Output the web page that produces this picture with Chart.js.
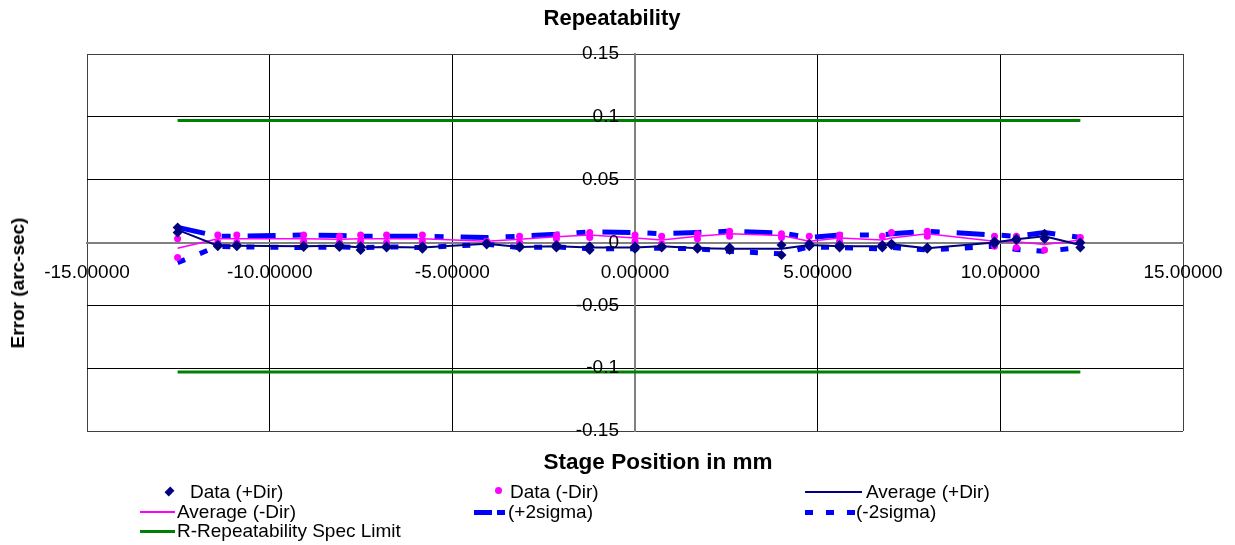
<!DOCTYPE html>
<html>
<head>
<meta charset="utf-8">
<script src="https://cdn.jsdelivr.net/npm/chart.js@4.4.0/dist/chart.umd.min.js"></script>
<style>
  body { margin: 0; background: #fff; font-family: "Liberation Sans", Arial, sans-serif; color: #000; }
  #wrap { position: relative; width: 1235px; height: 545px; overflow: hidden; }
  #chart { position: absolute; left: 0; top: 0; }
  .ttl { position: absolute; font-weight: bold; white-space: nowrap; }
  .lg { position: absolute; font-size: 19px; line-height: 20px; white-space: nowrap; }
  .sw { position: absolute; }
</style>
</head>
<body>
<div id="wrap">
  <canvas id="chart" width="1235" height="545"></canvas>
  <div class="ttl" style="left:0;width:1224px;top:5px;text-align:center;font-size:22px">Repeatability</div>
  <div class="ttl" style="left:0;width:1316px;top:449px;text-align:center;font-size:22.5px">Stage Position in mm</div>
  <div class="ttl" style="left:18px;top:283px;font-size:19px;transform:translate(-50%,-50%) rotate(-90deg)">Error (arc-sec)</div>
  <div id="legend"></div>
</div>
<script>
// stage positions (mm) where the error was measured
const positions = [-12.52, -11.42, -10.90, -9.07, -8.09, -7.51, -6.80, -5.82, -4.06, -3.16, -2.15, -1.24, 0.00,
                   0.73, 1.71, 2.59, 4.01, 4.77, 5.60, 6.77, 7.02, 8.00, 9.84, 10.44, 11.21, 12.19];

// measured error, arc-sec (two runs per direction)
const dataPlusA  = [0.012, -0.002, -0.002, -0.0025, -0.002, -0.003, -0.003, -0.003, -0.0005, -0.003, -0.002, -0.003, -0.003,
                    -0.003, -0.004, -0.004, -0.002, -0.001, -0.002, -0.002, -0.001, -0.004, 0.001, 0.003, 0.007, 0.000];
const dataPlusB  = [0.008, -0.003, -0.003, -0.0035, -0.0035, -0.006, -0.004, -0.005, -0.0015, -0.004, -0.004, -0.006, -0.005,
                    -0.004, -0.005, -0.006, -0.010, -0.003, -0.004, -0.004, -0.002, -0.005, -0.001, 0.002, 0.003, -0.004];
const dataMinusA = [0.003, 0.006, 0.006, 0.006, 0.005, 0.006, 0.006, 0.006, 0.001, 0.005, 0.006, 0.008, 0.006,
                    0.005, 0.007, 0.009, 0.007, 0.005, 0.006, 0.005, 0.008, 0.009, 0.005, 0.005, 0.003, 0.004];
const dataMinusB = [-0.012, 0.000, 0.000, 0.001, 0.000, 0.001, 0.000, 0.001, 0.0005, 0.000, 0.003, 0.004, 0.001,
                    -0.001, 0.003, 0.005, 0.004, -0.001, 0.001, -0.002, -0.001, 0.005, -0.003, -0.004, -0.006, 0.000];

// averages and 2-sigma band
const avgPlus    = [0.010, -0.0025, -0.0025, -0.003, -0.0025, -0.004, -0.0035, -0.004, -0.001, -0.0035, -0.003, -0.004, -0.004,
                    -0.003, -0.0045, -0.005, -0.005, -0.002, -0.003, -0.003, -0.0015, -0.0045, 0.000, 0.0025, 0.005, -0.002];
const avgMinus   = [-0.0045, 0.003, 0.003, 0.003, 0.0025, 0.003, 0.003, 0.003, 0.001, 0.0025, 0.0045, 0.006, 0.0035,
                    0.002, 0.005, 0.007, 0.0055, 0.001, 0.0035, 0.002, 0.0035, 0.007, 0.001, 0.0005, -0.0015, 0.002];
const sigmaPlus  = [0.012, 0.005, 0.005, 0.006, 0.0055, 0.005, 0.005, 0.005, 0.004, 0.005, 0.0065, 0.0085, 0.008,
                    0.007, 0.008, 0.009, 0.0075, 0.004, 0.006, 0.006, 0.007, 0.009, 0.006, 0.005, 0.008, 0.004];
const sigmaMinus = [-0.016, -0.003, -0.0035, -0.004, -0.0035, -0.004, -0.0035, -0.004, -0.0015, -0.004, -0.0035, -0.005, -0.005,
                    -0.0045, -0.005, -0.007, -0.009, -0.0035, -0.004, -0.005, -0.004, -0.006, -0.003, -0.0055, -0.007, -0.004];

// spec limit (arc-sec) and its x extent
const specUpper = 0.097;
const specLower = -0.103;
const specRange = [-12.52, 12.19];

const xTicks = [-15, -10, -5, 0, 5, 10, 15];
const yTicks = [-0.15, -0.1, -0.05, 0, 0.05, 0.1, 0.15];

const NAVY = '#000080', MAGENTA = '#FF00FF', BLUE = '#0000FF', GREEN = '#008000';

const pts = ys => positions.map((x, i) => ({ x: x, y: ys[i] }));
const specPts = v => specRange.map(x => ({ x: x, y: v }));

const datasets = [
    { label: 'Data (+Dir)', data: pts(dataPlusA).concat(pts(dataPlusB)), showLine: false,
      pointStyle: 'rectRot', pointRadius: 5, backgroundColor: NAVY, borderColor: NAVY, borderWidth: 0 },
    { label: 'Data (-Dir)', data: pts(dataMinusA).concat(pts(dataMinusB)), showLine: false,
      pointStyle: 'circle', pointRadius: 3.5, backgroundColor: MAGENTA, borderColor: MAGENTA, borderWidth: 0 },
    { label: 'Average (+Dir)', data: pts(avgPlus), showLine: true, borderColor: NAVY, borderWidth: 2, pointRadius: 0 },
    { label: 'Average (-Dir)', data: pts(avgMinus), showLine: true, borderColor: MAGENTA, borderWidth: 1.5, pointRadius: 0 },
    { label: '(+2sigma)', data: pts(sigmaPlus), showLine: true, borderColor: BLUE, borderWidth: 5,
      borderDash: [28, 17, 9, 17], borderCapStyle: 'butt', pointRadius: 0 },
    { label: '(-2sigma)', data: pts(sigmaMinus), showLine: true, borderColor: BLUE, borderWidth: 5,
      borderDash: [8, 16], borderCapStyle: 'butt', pointRadius: 0 },
    { label: 'R-Repeatability Spec Limit', data: specPts(specUpper), showLine: true, borderColor: GREEN, borderWidth: 3, pointRadius: 0 },
    { label: 'R-Repeatability Spec Limit', data: specPts(specLower), showLine: true, borderColor: GREEN, borderWidth: 3, pointRadius: 0 }
];

const gridColor = (edge) => (ctx) => {
    const v = ctx.tick.value;
    if (Math.abs(v) < 1e-9) return '#808080';
    if (Math.abs(Math.abs(v) - edge) < 1e-9) return '#404040';
    return '#000000';
};

const fmtY = v => String(Number(v.toFixed(2)));
const fmtX = v => v.toFixed(5);

// tick labels sit next to the axes that cross at zero, like Excel draws them
const axisLabels = {
    id: 'axisLabels',
    afterDraw(chart) {
        const { ctx, scales: { x, y } } = chart;
        const x0 = x.getPixelForValue(0);
        const y0 = y.getPixelForValue(0);
        ctx.save();
        ctx.font = '19px "Liberation Sans", Arial, sans-serif';
        ctx.fillStyle = '#000';
        ctx.textBaseline = 'middle';
        ctx.textAlign = 'right';
        y.ticks.forEach(t => ctx.fillText(fmtY(t.value), x0 - 16, y.getPixelForValue(t.value)));
        ctx.textAlign = 'center';
        x.ticks.forEach(t => ctx.fillText(fmtX(t.value), x.getPixelForValue(t.value), y0 + 30));
        ctx.restore();
    }
};

new Chart(document.getElementById('chart'), {
    type: 'scatter',
    data: { datasets: datasets },
    plugins: [axisLabels],
    options: {
        responsive: false,
        devicePixelRatio: 1,
        animation: false,
        layout: { padding: { left: 87, right: 52, top: 54, bottom: 114 } },
        plugins: { legend: { display: false }, tooltip: { enabled: false }, title: { display: false } },
        scales: {
            x: {
                type: 'linear', min: -15, max: 15, position: { y: 0 },
                afterBuildTicks: axis => { axis.ticks = xTicks.map(v => ({ value: v })); },
                ticks: { display: false },
                grid: { color: gridColor(15), lineWidth: 1, drawTicks: false },
                border: { color: '#808080', width: 2 }
            },
            y: {
                type: 'linear', min: -0.15, max: 0.15, position: { x: 0 },
                afterBuildTicks: axis => { axis.ticks = yTicks.map(v => ({ value: v })); },
                ticks: { display: false },
                grid: { color: gridColor(0.15), lineWidth: 1, drawTicks: false },
                border: { color: '#808080', width: 2 }
            }
        }
    }
});

// legend laid out in three columns like the original
const legendItems = [
    { text: 'Data (+Dir)', x: 190, y: 492, sw: '<div class="sw" style="left:166px;top:488px;width:7px;height:7px;background:' + NAVY + ';transform:rotate(45deg) scale(0.85,1.15)"></div>' },
    { text: 'Data (-Dir)', x: 510, y: 492, sw: '<div class="sw" style="left:495px;top:487px;width:7px;height:7px;border-radius:50%;background:' + MAGENTA + '"></div>' },
    { text: 'Average (+Dir)', x: 866, y: 492, sw: '<div class="sw" style="left:805px;top:491px;width:57px;height:2px;background:' + NAVY + '"></div>' },
    { text: 'Average (-Dir)', x: 177, y: 512, sw: '<div class="sw" style="left:140px;top:511px;width:35px;height:2px;background:' + MAGENTA + '"></div>' },
    { text: '(+2sigma)', x: 508, y: 512, sw: '<div class="sw" style="left:474px;top:510px;width:18px;height:5px;background:' + BLUE + '"></div>' +
                                              '<div class="sw" style="left:497px;top:510px;width:8px;height:5px;background:' + BLUE + '"></div>' },
    { text: '(-2sigma)', x: 856, y: 512, sw: '<div class="sw" style="left:805px;top:510px;width:8px;height:5px;background:' + BLUE + '"></div>' +
                                             '<div class="sw" style="left:826px;top:510px;width:8px;height:5px;background:' + BLUE + '"></div>' +
                                             '<div class="sw" style="left:847px;top:510px;width:8px;height:5px;background:' + BLUE + '"></div>' },
    { text: 'R-Repeatability Spec Limit', x: 177, y: 531, sw: '<div class="sw" style="left:140px;top:530px;width:35px;height:3px;background:' + GREEN + '"></div>' }
];
document.getElementById('legend').innerHTML = legendItems.map(it =>
    it.sw + '<div class="lg" style="left:' + it.x + 'px;top:' + (it.y - 10) + 'px">' + it.text + '</div>'
).join('');
</script>
</body>
</html>
